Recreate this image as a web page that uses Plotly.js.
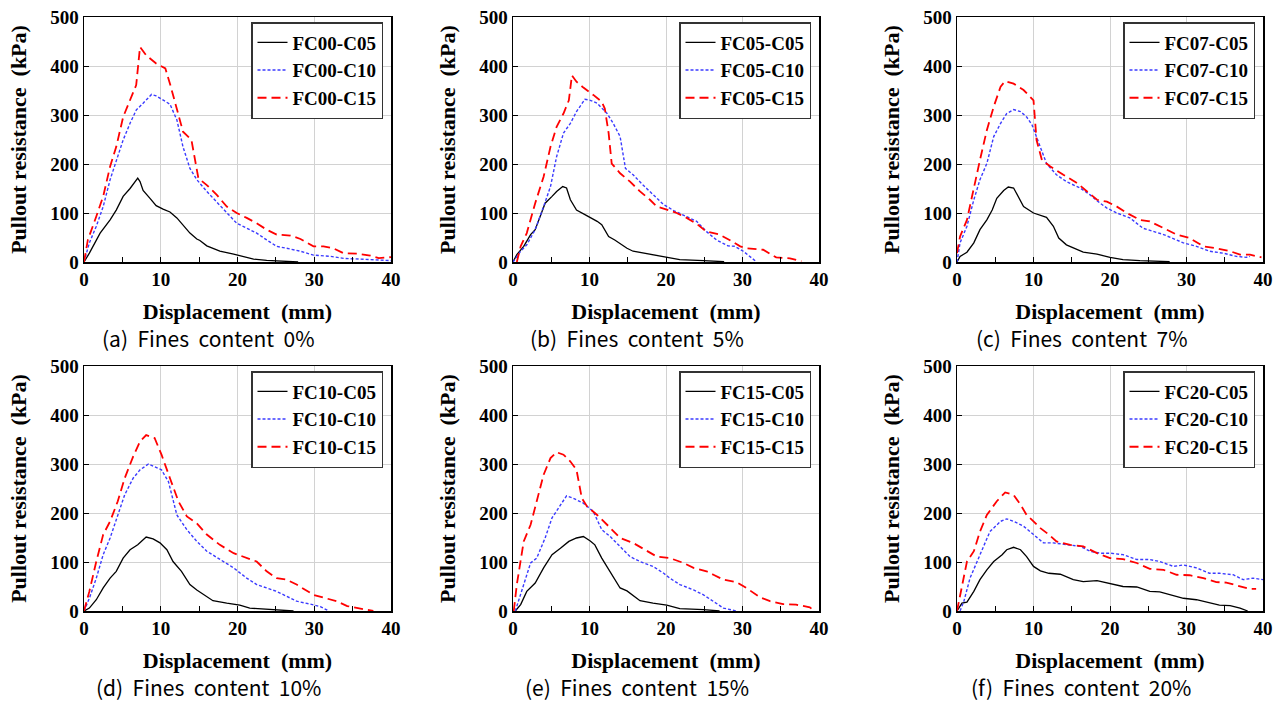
<!DOCTYPE html>
<html>
<head>
<meta charset="utf-8">
<script src="https://cdn.plot.ly/plotly-3.0.1.min.js"></script>
<style>html,body{margin:0;padding:0;background:#fff;}#chart{width:1282px;height:702px;}</style>
</head>
<body>
<div id="chart"></div>
<script>
// ---------------- DATA ----------------
const panelLabels = ['(a)&nbsp;&nbsp;Fines&nbsp;&nbsp;content&nbsp;&nbsp;0%', '(b)&nbsp;&nbsp;Fines&nbsp;&nbsp;content&nbsp;&nbsp;5%', '(c)&nbsp;&nbsp;Fines&nbsp;&nbsp;content&nbsp;&nbsp;7%',
                     '(d)&nbsp;&nbsp;Fines&nbsp;&nbsp;content&nbsp;&nbsp;10%', '(e)&nbsp;&nbsp;Fines&nbsp;&nbsp;content&nbsp;&nbsp;15%', '(f)&nbsp;&nbsp;Fines&nbsp;&nbsp;content&nbsp;&nbsp;20%'];
const fcCodes = ['FC00', 'FC05', 'FC07', 'FC10', 'FC15', 'FC20'];
const cCodes = ['C05', 'C10', 'C15'];
const xTitle = 'Displacement&nbsp; (mm)';
const yTitle = 'Pullout resistance&nbsp; (kPa)';

// FC00
const fc00_c05_x = [0,0.7,2.1,3.4,4.2,5.1,6.0,7.0,7.3,7.7,8.6,9.4,10.3,11.2,12.1,12.9,13.8,14.7,15.1,16.0,17.7,19.5,20.8,22.1,23.8,26.0,27.9];
const fc00_c05_y = [0,18,59,86,106,134,150,171,164,146,130,115,108,102,90,76,59,47,44,33,22,16,11.5,6,3.4,1.4,0];
const fc00_c10_x = [0,0.7,1.6,2.5,3.4,4.2,5.1,6.0,6.8,7.7,8.8,9.4,10.3,11.2,12.1,12.9,13.8,14.7,16.0,17.3,18.6,19.9,21.2,22.5,23.8,25.1,26.4,28.2,29.9,32.1,33.8,36.0,38.2,40];
const fc00_c10_y = [0,39,73,113,168,208,249,283,310,324,342,339,330,322,290,235,191,168,144,123,100,79,69,59,45,32,28,22,14,11.5,7.5,5.4,4.7,2.7];
const fc00_c15_x = [0,0.5,1.6,2.5,3.4,4.2,5.1,6.0,6.8,7.3,8.1,9.4,10.6,11.2,12.1,12.9,14.0,14.7,14.9,16.0,17.3,18.6,19.9,21.2,22.5,23.8,25.1,26.9,28.2,29.9,31.2,32.5,33.8,35.6,37.3,38.4,40];
const fc00_c15_y = [0,45,93,134,195,235,296,330,361,439,422,405,395,364,310,266,249,188,171,157,137,113,100,90,79,66,56,54,47,32,32,28,18,17,13,8,10];
// FC05
const fc05_c05_x = [0,0.5,1.4,2.3,2.9,3.6,4.2,5.1,5.7,6.5,7.0,7.5,8.3,9.7,11.0,11.6,12.5,13.3,14.0,14.9,15.7,17.5,19.2,21.0,21.8,24.9,27.6];
const fc05_c05_y = [0,15,32,56,66,93,120,134,144,154,151,127,106,94,83,76,52,45,37,28,22,17,13,7,5,2.7,0.7];
const fc05_c10_x = [0,1.0,1.8,2.9,4.0,4.9,5.7,6.6,7.5,8.3,9.4,10.1,11.0,12.3,13.1,14.0,14.7,15.7,17.0,18.3,19.7,21.0,22.3,24.0,25.3,26.6,28.1,29.0,30.1,31.8];
const fc05_c10_y = [0,22,35,66,113,154,215,263,283,307,332,330,324,303,283,256,191,178,157,137,117,105,96,83,62,45,33,32,22,0.7];
const fc05_c15_x = [0.5,1.0,1.8,2.9,4.0,4.9,5.7,6.6,7.3,7.7,8.3,9.2,10.5,11.6,12.0,12.5,12.9,14.0,15.3,16.6,17.9,18.8,20.1,21.4,22.7,24.0,25.3,27.0,28.3,29.7,30.5,32.7,34.4,36.2,37.7];
const fc05_c15_y = [0,32,59,120,174,235,276,303,330,381,368,356,341,327,313,263,201,181,164,144,127,113,107,100,90,78,62,56,45,32,28,25,9.5,7.5,1.4];
// FC07
const fc07_c05_x = [0,0.4,1.3,2.2,3.0,3.9,4.6,5.2,6.1,6.7,7.4,8.0,8.7,10.0,10.9,11.7,12.6,13.3,14.3,15.7,16.5,18.3,20.0,21.7,23.9,27.8];
const fc07_c05_y = [0,11.5,20,39,66,86,106,130,146,153,151,134,113,100,96,91,73,49,35,26,20,16,9.5,5,2.7,0.7];
const fc07_c10_x = [0,0.4,1.3,2.2,3.0,3.9,4.8,5.7,6.5,7.4,8.3,9.1,9.8,10.2,10.9,11.7,13.0,14.3,16.1,17.4,18.7,19.6,20.9,22.6,24.3,25.7,27.0,28.7,29.6,31.3,33.0,34.8,36.5,37.8,38.3];
const fc07_c10_y = [0,39,73,127,168,201,256,283,303,311,307,296,280,263,235,201,178,164,151,137,120,110,100,90,69,62,56,45,39,32,22,18,11.5,9.5,11.5];
const fc07_c15_x = [0,0.4,1.3,2.2,3.0,3.9,4.8,5.7,6.3,7.4,8.7,10.0,10.4,11.1,12.2,13.9,15.7,17.0,18.3,19.6,20.9,22.2,23.9,25.2,27.0,28.7,30.4,32.2,33.9,35.7,37.0,38.3,39.8];
const fc07_c15_y = [18,52,86,154,208,269,317,358,369,364,351,330,249,208,195,178,161,144,127,123,113,100,86,83,69,56,49,32,28,22,15,15,9.5];
// FC10
const fc10_c05_x = [0,0.7,1.6,2.5,3.4,4.2,5.1,6.0,7.0,8.1,9.0,9.9,10.8,11.6,12.7,13.8,14.7,15.5,16.8,18.6,20.3,21.6,23.8,26.0,27.3];
const fc10_c05_y = [0,6,23,47,67,81,108,125,135,151,147,139,125,101,81,54,43,35,21,16,12,6,4,2.7,0];
const fc10_c10_x = [0,0.7,1.6,2.5,3.4,4.4,5.3,6.4,7.3,8.4,9.2,10.1,11.0,12.1,13.4,14.7,16.0,17.7,19.5,21.2,22.5,23.8,25.1,26.4,27.7,29.5,30.8,31.9];
const fc10_c10_y = [0,26,67,115,149,196,237,271,288,300,295,288,264,196,166,142,122,105,88,67,54,47,40,30,20,14,9,0];
const fc10_c15_x = [0,0.7,1.6,2.5,3.4,4.4,5.3,6.4,7.3,8.1,9.2,10.1,11.2,12.3,13.4,14.7,16.0,17.7,19.5,20.8,22.5,23.8,25.1,26.4,27.7,29.9,31.2,32.9,34.3,36.4,37.7];
const fc10_c15_y = [0,40,101,156,183,224,271,315,346,359,353,319,271,224,193,179,156,135,118,111,101,81,67,64,54,33,28,20,10,3,0];
// FC15
const fc15_c05_x = [0.3,1.0,1.8,2.9,4.0,5.1,6.2,7.3,8.3,9.2,10.1,10.7,11.6,12.7,14.0,14.9,16.6,18.3,20.1,21.8,24.9,27.0];
const fc15_c05_y = [0,13,40,57,88,115,128,142,149,152,143,135,108,81,47,41,21,16,12,5,3,0];
const fc15_c10_x = [0.3,1.0,2.3,3.1,4.2,5.1,6.2,7.0,7.9,9.2,10.5,11.6,12.7,14.0,15.3,16.6,18.3,19.7,20.5,21.8,23.6,24.9,26.2,27.5,29.2];
const fc15_c10_y = [0,33,98,108,149,190,217,235,230,220,203,166,152,132,111,101,91,77,67,54,43,33,20,6,0];
const fc15_c15_x = [0.1,0.5,1.4,2.3,3.1,4.0,4.9,5.7,6.6,7.5,8.3,9.0,9.7,11.0,12.3,14.0,15.7,17.5,18.8,20.5,22.3,23.6,25.3,26.2,27.5,29.2,30.5,32.3,33.6,35.3,37.0,38.8,39.4];
const fc15_c15_y = [0,54,142,176,224,278,312,324,319,305,288,230,213,196,176,149,139,122,111,108,98,88,81,74,64,59,47,28,20,14,13,7.5,0];
// FC20
const fc20_c05_x = [0,0.65,1.3,2.2,3.0,3.9,4.8,5.9,6.5,7.4,8.3,9.1,10.0,10.9,12.0,13.5,15.2,16.5,18.3,20.0,21.7,23.5,25.2,26.5,27.8,29.6,31.3,33.0,34.3,35.7,37.0,38.0];
const fc20_c05_y = [0,16,18,40,64,84,101,115,125,130,125,111,91,82,77,75,64,60,62,56,50,49,40,39,33,26,23,16,12,11,6,0];
const fc20_c10_x = [0.4,0.9,1.7,2.6,3.5,4.3,5.7,6.5,7.4,8.7,10.0,11.3,12.6,14.3,16.1,17.4,18.7,20.0,21.7,23.5,25.2,26.5,28.3,29.6,31.3,33.0,34.3,36.1,37.4,38.7,40];
const fc20_c10_y = [0,20,67,101,135,162,183,188,183,173,156,139,139,135,132,122,118,118,115,105,105,101,91,94,88,77,77,74,64,67,64];
const fc20_c15_x = [0,0.4,1.3,2.2,3.0,3.9,5.2,6.3,7.4,8.3,9.1,10.0,10.9,12.0,13.0,14.8,16.5,18.3,20.0,21.7,23.5,25.2,27.0,28.7,30.4,32.2,33.9,35.2,37.0,38.3,39.1];
const fc20_c15_y = [0,33,101,122,162,196,224,242,237,217,196,183,169,156,142,135,132,118,108,106,98,86,84,74,73,67,59,58,50,45,45];

const panelData = [
  [[fc00_c05_x, fc00_c05_y], [fc00_c10_x, fc00_c10_y], [fc00_c15_x, fc00_c15_y]],
  [[fc05_c05_x, fc05_c05_y], [fc05_c10_x, fc05_c10_y], [fc05_c15_x, fc05_c15_y]],
  [[fc07_c05_x, fc07_c05_y], [fc07_c10_x, fc07_c10_y], [fc07_c15_x, fc07_c15_y]],
  [[fc10_c05_x, fc10_c05_y], [fc10_c10_x, fc10_c10_y], [fc10_c15_x, fc10_c15_y]],
  [[fc15_c05_x, fc15_c05_y], [fc15_c10_x, fc15_c10_y], [fc15_c15_x, fc15_c15_y]],
  [[fc20_c05_x, fc20_c05_y], [fc20_c10_x, fc20_c10_y], [fc20_c15_x, fc20_c15_y]]
];

// ---------------- STYLE / LAYOUT ----------------
const W = 1282, H = 702;
const cols = [[84, 391], [513, 819], [957, 1263]];
const rows = [[17, 262], [366, 611]];
const captionCx = [208, 637, 1081];
const captionCy = [338, 687];
const serif = 'Liberation Serif';
const sans = 'Noto Sans CJK KR';
const lineStyles = [
  {color: '#000000', width: 1.3, dash: 'solid'},
  {color: '#3b3bff', width: 1.4, dash: '3px,2px'},
  {color: '#ff0000', width: 1.8, dash: '9px,5px'}
];

const traces = [];
const layout = {
  width: W, height: H,
  margin: {l: 0, r: 0, t: 0, b: 0},
  paper_bgcolor: '#ffffff', plot_bgcolor: '#ffffff',
  showlegend: true,
  font: {family: serif, color: '#000'},
  annotations: []
};

for (let p = 0; p < 6; p++) {
  const r = Math.floor(p / 3), c = p % 3;
  const sfx = p === 0 ? '' : String(p + 1);
  const legName = 'legend' + sfx;
  const [x0, x1] = cols[c], [y0, y1] = rows[r];

  for (let s = 0; s < 3; s++) {
    traces.push({
      type: 'scatter', mode: 'lines',
      x: panelData[p][s][0], y: panelData[p][s][1],
      name: '<b>' + fcCodes[p] + '-' + cCodes[s] + '</b>',
      xaxis: 'x' + sfx, yaxis: 'y' + sfx,
      legend: legName,
      line: lineStyles[s]
    });
  }

  layout['xaxis' + sfx] = {
    domain: [x0 / W, x1 / W], anchor: 'y' + sfx,
    range: [0, 40], dtick: 10, tick0: 0,
    ticks: 'inside', ticklen: 5, tickwidth: 1, tickcolor: '#000',
    minor: {dtick: 5, ticks: 'inside', ticklen: 5, tickwidth: 1, tickcolor: '#000', showgrid: false},
    showgrid: true, gridcolor: '#d2d2d2', gridwidth: 1,
    showline: true, linecolor: '#000', linewidth: 1.5, mirror: true,
    zeroline: false, automargin: false, fixedrange: true,
    tickprefix: '<b>', ticksuffix: '</b>',
    tickfont: {family: serif, size: 19, color: '#000'},
    title: {text: '<b>' + xTitle + '</b>', standoff: 14, font: {family: serif, size: 22, color: '#000'}}
  };
  layout['yaxis' + sfx] = {
    domain: [1 - y1 / H, 1 - y0 / H], anchor: 'x' + sfx,
    range: [0, 500], dtick: 100, tick0: 0,
    ticks: 'inside', ticklen: 5, tickwidth: 1, tickcolor: '#000',
    showgrid: true, gridcolor: '#d2d2d2', gridwidth: 1,
    showline: true, linecolor: '#000', linewidth: 1.5, mirror: true,
    zeroline: false, automargin: false, fixedrange: true,
    tickprefix: '<b>', ticksuffix: '</b>',
    tickfont: {family: serif, size: 19, color: '#000'},
    title: {text: '<b>' + yTitle + '</b>', standoff: 17, font: {family: serif, size: 22, color: '#000'}}
  };
  layout[legName] = {
    x: (x1 - 8) / W, xanchor: 'right',
    y: 1 - (y0 + 5) / H, yanchor: 'top',
    bgcolor: '#ffffff', bordercolor: '#333333', borderwidth: 1.5,
    font: {family: serif, size: 19, color: '#000'},
    tracegroupgap: 0, itemwidth: 30
  };
  layout.annotations.push({
    xref: 'paper', yref: 'paper',
    x: captionCx[c] / W, y: 1 - captionCy[r] / H,
    xanchor: 'center', yanchor: 'middle',
    text: panelLabels[p], showarrow: false,
    font: {family: sans, size: 21, color: '#000'}
  });
}

Plotly.newPlot('chart', traces, layout, {displayModeBar: false, staticPlot: true});
</script>
</body>
</html>
